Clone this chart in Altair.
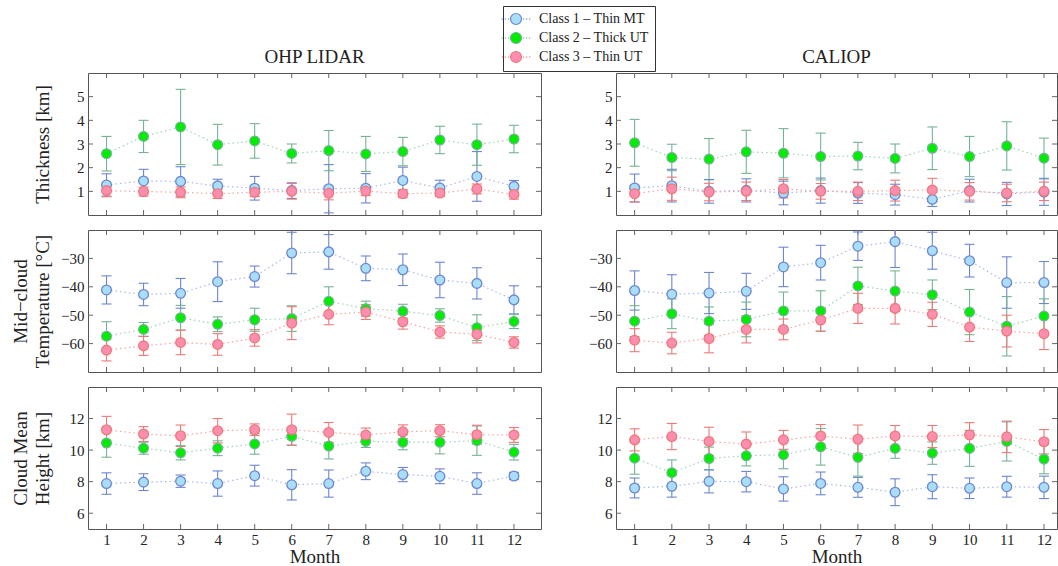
import altair as alt
import pandas as pd

MONTHS = list(range(1, 13))
CLASSES = ["Class 1 – Thin MT", "Class 2 – Thick UT", "Class 3 – Thin UT"]

ohp_thk_c1 = [1.27, 1.44, 1.42, 1.23, 1.13, 1.03, 1.11, 1.13, 1.46, 1.14, 1.63, 1.21]
ohp_thk_c1_sd = [0.47, 0.49, 0.62, 0.28, 0.50, 0.33, 1.02, 0.62, 0.56, 0.33, 1.05, 0.25]
ohp_thk_c2 = [2.59, 3.32, 3.72, 2.97, 3.13, 2.60, 2.72, 2.58, 2.68, 3.17, 2.97, 3.21]
ohp_thk_c2_sd = [0.73, 0.68, 1.59, 0.86, 0.73, 0.40, 0.85, 0.74, 0.60, 0.58, 0.87, 0.58]
ohp_thk_c3 = [1.03, 0.99, 0.96, 0.90, 0.96, 1.00, 0.92, 1.01, 0.90, 0.93, 1.10, 0.87]
ohp_thk_c3_sd = [0.26, 0.19, 0.23, 0.20, 0.18, 0.33, 0.28, 0.19, 0.17, 0.14, 0.21, 0.20]
ohp_tmp_c1 = [-41.1, -42.7, -42.3, -38.2, -36.4, -28.1, -27.7, -33.5, -34.0, -37.6, -38.8, -44.6]
ohp_tmp_c1_sd = [4.95, 3.95, 5.25, 7.0, 3.7, 7.3, 6.1, 4.35, 5.55, 6.25, 5.5, 4.95]
ohp_tmp_c2 = [-57.4, -55.0, -50.9, -53.2, -51.6, -51.2, -45.1, -47.7, -48.6, -50.1, -54.4, -52.2]
ohp_tmp_c2_sd = [5.1, 2.45, 4.35, 2.6, 4.05, 4.5, 5.1, 2.65, 2.45, 2.35, 4.55, 2.5]
ohp_tmp_c3 = [-62.3, -60.8, -59.6, -60.3, -58.0, -52.8, -49.7, -48.9, -52.3, -55.9, -56.7, -59.6]
ohp_tmp_c3_sd = [3.8, 3.35, 4.3, 3.8, 2.9, 5.8, 3.65, 2.6, 2.6, 2.15, 3.05, 2.0]
ohp_hgt_c1 = [7.88, 7.97, 8.03, 7.88, 8.38, 7.80, 7.88, 8.66, 8.45, 8.34, 7.88, 8.36]
ohp_hgt_c1_sd = [0.68, 0.53, 0.39, 0.80, 0.66, 0.96, 0.86, 0.53, 0.45, 0.47, 0.68, 0.23]
ohp_hgt_c2 = [10.45, 10.12, 9.83, 10.12, 10.39, 10.87, 10.26, 10.56, 10.50, 10.50, 10.60, 9.87]
ohp_hgt_c2_sd = [0.90, 0.38, 0.45, 0.47, 0.65, 0.55, 0.82, 0.39, 0.48, 0.74, 0.93, 0.50]
ohp_hgt_c3 = [11.29, 11.02, 10.91, 11.23, 11.29, 11.29, 11.12, 10.96, 11.16, 11.23, 10.98, 10.96]
ohp_hgt_c3_sd = [0.85, 0.47, 0.68, 0.77, 0.37, 0.99, 0.63, 0.44, 0.44, 0.38, 0.60, 0.47]

cal_thk_c1 = [1.14, 1.24, 1.00, 1.04, 0.93, 1.03, 0.93, 0.86, 0.66, 1.03, 0.89, 0.97]
cal_thk_c1_sd = [0.59, 0.69, 0.50, 0.49, 0.50, 0.53, 0.44, 0.44, 0.30, 0.48, 0.49, 0.56]
cal_thk_c2 = [3.05, 2.43, 2.36, 2.67, 2.61, 2.47, 2.49, 2.39, 2.82, 2.47, 2.92, 2.40]
cal_thk_c2_sd = [0.99, 0.56, 0.87, 0.91, 1.04, 0.99, 0.58, 0.61, 0.90, 0.85, 1.02, 0.85]
cal_thk_c3 = [0.90, 1.11, 0.97, 1.00, 1.11, 1.00, 1.00, 1.03, 1.06, 1.00, 0.93, 1.00]
cal_thk_c3_sd = [0.35, 0.49, 0.37, 0.39, 0.39, 0.33, 0.39, 0.44, 0.49, 0.37, 0.37, 0.39]
cal_tmp_c1 = [-41.3, -42.6, -42.2, -41.6, -33.0, -31.5, -25.7, -24.1, -27.3, -30.8, -38.5, -38.5]
cal_tmp_c1_sd = [6.9, 6.85, 7.25, 6.35, 6.95, 6.1, 5.0, 9.1, 6.5, 5.75, 9.05, 7.4]
cal_tmp_c2 = [-52.1, -49.5, -52.1, -51.5, -48.5, -48.5, -39.7, -41.5, -42.8, -48.9, -53.9, -50.3]
cal_tmp_c2_sd = [5.45, 5.25, 5.0, 6.1, 6.65, 7.1, 6.6, 7.1, 5.2, 7.95, 10.45, 6.05]
cal_tmp_c3 = [-58.8, -59.8, -58.2, -55.0, -55.0, -51.7, -47.6, -47.6, -49.7, -54.2, -55.6, -56.5]
cal_tmp_c3_sd = [4.05, 3.8, 5.05, 4.75, 3.65, 4.0, 5.3, 5.5, 4.25, 5.05, 5.6, 5.6]
cal_hgt_c1 = [7.60, 7.71, 8.02, 8.00, 7.54, 7.89, 7.64, 7.33, 7.68, 7.58, 7.68, 7.64]
cal_hgt_c1_sd = [0.63, 0.69, 0.73, 0.65, 0.77, 0.72, 0.63, 0.85, 0.76, 0.65, 0.66, 0.71]
cal_hgt_c2 = [9.49, 8.57, 9.47, 9.64, 9.71, 10.21, 9.54, 10.11, 9.81, 10.11, 10.55, 9.43]
cal_hgt_c2_sd = [1.02, 0.81, 0.72, 0.64, 0.89, 1.16, 1.19, 0.63, 0.71, 1.14, 1.24, 0.93]
cal_hgt_c3 = [10.65, 10.86, 10.55, 10.38, 10.65, 10.90, 10.69, 10.90, 10.86, 10.97, 10.84, 10.53]
cal_hgt_c3_sd = [0.70, 0.83, 0.90, 0.77, 0.60, 0.72, 0.90, 0.66, 0.70, 0.77, 1.00, 0.77]

THK_TICKS = [1, 2, 3, 4, 5]
TMP_TICKS = [-60, -50, -40, -30]
HGT_TICKS = [6, 8, 10, 12]

FONT = "Liberation Serif"
TXT = "#222222"
FILL_COLORS = ["#a9def9", "#00ec00", "#ff8db0"]
STROKE_COLORS = ["#6d86d0", "#74b493", "#ec7a78"]
LINE_COLORS = ["#a9b8ec", "#9fd4b5", "#f4a6a6"]

H = 142
W_LEFT = 453
W_RIGHT = 441
XDOM_LEFT = [0.5, 12.73]
XDOM_RIGHT = [0.5, 12.35]

LEGEND_PATH = (
    "M-2.6,0L-2.35,0M-2.05,0L-1.8,0M-1.5,0L-1.25,0"
    "M1.25,0L1.5,0M1.8,0L2.05,0M2.35,0L2.6,0"
    "M-1,0A1,1 0 1,1 1,0A1,1 0 1,1 -1,0Z"
)

legend = alt.Legend(
    title=None, orient="none", legendX=415, legendY=-67,
    symbolType=LEGEND_PATH, symbolSize=121, symbolStrokeWidth=1.2,
    labelFont=FONT, labelFontSize=14, labelColor=TXT, labelOffset=16,
    rowPadding=3, padding=6, strokeColor="#333333", fillColor="white",
)


def panel_df(series):
    rows = []
    for cls, (m, s) in zip(CLASSES, series):
        for mo, mv, sv in zip(MONTHS, m, s):
            rows.append({"month": mo, "cls": cls, "mean": mv, "lo": mv - sv, "hi": mv + sv})
    return pd.DataFrame(rows)


def make_panel(df, ydom, yticks, width, xdom, ytitle=None, bottom=False, title=None):
    xscale = alt.Scale(domain=xdom, nice=False, zero=False)
    yscale = alt.Scale(domain=ydom, nice=False, zero=False)
    if bottom:
        xaxis = alt.Axis(values=MONTHS, format="d", title="Month", ticks=False, domain=False,
                         grid=False, labelPadding=3, titlePadding=0, labelFontSize=15,
                         titleFontSize=19, labelFont=FONT, titleFont=FONT,
                         titleFontWeight="normal", labelColor=TXT, titleColor=TXT,
                         labelFlush=False)
    else:
        xaxis = None
    ykw = dict(values=yticks, ticks=False, domain=False, grid=False, labelPadding=4,
               labelFontSize=15, labelFont=FONT, labelColor=TXT)
    if ytitle is not None:
        ykw.update(title=ytitle, titleFont=FONT, titleFontSize=19, titleFontWeight="normal",
                   titleColor=TXT, titlePadding=6, minExtent=30, maxExtent=30, titleLineHeight=22)
    else:
        ykw.update(title=None, minExtent=38, maxExtent=38)
    yaxis = alt.Axis(**ykw)

    def X():
        return alt.X("month:Q", scale=xscale, axis=xaxis)

    def Y(field):
        return alt.Y(f"{field}:Q", scale=yscale, axis=yaxis)

    stroke_scale = alt.Scale(domain=CLASSES, range=STROKE_COLORS)
    fill_scale = alt.Scale(domain=CLASSES, range=FILL_COLORS)

    base = alt.Chart(df)
    lines = [
        base.transform_filter(alt.datum.cls == c).mark_line(
            color=LINE_COLORS[i], strokeDash=[1.5, 3], strokeWidth=1.2, clip=True
        ).encode(x=X(), y=Y("mean"))
        for i, c in enumerate(CLASSES)
    ]
    bars = base.mark_rule(strokeWidth=1.1, clip=True).encode(
        x=X(), y=Y("lo"), y2="hi:Q",
        stroke=alt.Stroke("cls:N", scale=stroke_scale, legend=legend))
    cap_lo = base.mark_rule(strokeWidth=1.1, clip=True, xOffset=-5, x2Offset=5).encode(
        x=X(), x2="month:Q", y=Y("lo"),
        stroke=alt.Stroke("cls:N", scale=stroke_scale, legend=legend))
    cap_hi = base.mark_rule(strokeWidth=1.1, clip=True, xOffset=-5, x2Offset=5).encode(
        x=X(), x2="month:Q", y=Y("hi"),
        stroke=alt.Stroke("cls:N", scale=stroke_scale, legend=legend))
    pts = base.mark_circle(size=95, strokeWidth=1.3, opacity=1, clip=True).encode(
        x=X(), y=Y("mean"),
        fill=alt.Fill("cls:N", scale=fill_scale, legend=legend),
        stroke=alt.Stroke("cls:N", scale=stroke_scale, legend=legend))

    tx = alt.Chart(pd.DataFrame({"month": MONTHS}))
    ty = alt.Chart(pd.DataFrame({"mean": yticks}))
    tick_color = "#666666"
    t_top = tx.mark_rule(color=tick_color).encode(x=X(), y=alt.value(0), y2=alt.value(5))
    t_bot = tx.mark_rule(color=tick_color).encode(x=X(), y=alt.value(H - 5), y2=alt.value(H))
    t_left = ty.mark_rule(color=tick_color).encode(y=Y("mean"), x=alt.value(0), x2=alt.value(5))
    t_right = ty.mark_rule(color=tick_color).encode(y=Y("mean"), x=alt.value(width - 5), x2=alt.value(width))

    layer = alt.layer(*lines, t_top, t_bot, t_left, t_right, bars, cap_lo, cap_hi, pts)
    props = dict(width=width, height=H)
    if title is not None:
        props["title"] = alt.Title(title, font=FONT, fontSize=19, fontWeight="normal",
                                   color=TXT, offset=6)
    return layer.properties(**props)


ohp_thk = panel_df([(ohp_thk_c1, ohp_thk_c1_sd), (ohp_thk_c2, ohp_thk_c2_sd), (ohp_thk_c3, ohp_thk_c3_sd)])
ohp_tmp = panel_df([(ohp_tmp_c1, ohp_tmp_c1_sd), (ohp_tmp_c2, ohp_tmp_c2_sd), (ohp_tmp_c3, ohp_tmp_c3_sd)])
ohp_hgt = panel_df([(ohp_hgt_c1, ohp_hgt_c1_sd), (ohp_hgt_c2, ohp_hgt_c2_sd), (ohp_hgt_c3, ohp_hgt_c3_sd)])
cal_thk = panel_df([(cal_thk_c1, cal_thk_c1_sd), (cal_thk_c2, cal_thk_c2_sd), (cal_thk_c3, cal_thk_c3_sd)])
cal_tmp = panel_df([(cal_tmp_c1, cal_tmp_c1_sd), (cal_tmp_c2, cal_tmp_c2_sd), (cal_tmp_c3, cal_tmp_c3_sd)])
cal_hgt = panel_df([(cal_hgt_c1, cal_hgt_c1_sd), (cal_hgt_c2, cal_hgt_c2_sd), (cal_hgt_c3, cal_hgt_c3_sd)])

p11 = make_panel(ohp_thk, [0, 6], THK_TICKS, W_LEFT, XDOM_LEFT, ytitle=[" ", "Thickness [km]"], title="OHP LIDAR")
p12 = make_panel(cal_thk, [0, 6], THK_TICKS, W_RIGHT, XDOM_RIGHT, title="CALIOP")
p21 = make_panel(ohp_tmp, [-70, -20], TMP_TICKS, W_LEFT, XDOM_LEFT, ytitle=["Mid−cloud", "Temperature [°C]"])
p22 = make_panel(cal_tmp, [-70, -20], TMP_TICKS, W_RIGHT, XDOM_RIGHT)
p31 = make_panel(ohp_hgt, [5, 14], HGT_TICKS, W_LEFT, XDOM_LEFT, ytitle=["Cloud Mean", "Height [km]"], bottom=True)
p32 = make_panel(cal_hgt, [5, 14], HGT_TICKS, W_RIGHT, XDOM_RIGHT, bottom=True)

chart = alt.vconcat(
    alt.hconcat(p11, p12, spacing=35),
    alt.hconcat(p21, p22, spacing=35),
    alt.hconcat(p31, p32, spacing=35),
    spacing=13,
).properties(
    padding={"left": 10, "top": 5, "right": 0, "bottom": 0},
    background="white",
).configure_view(stroke="#555555", strokeWidth=1)

chart.save("out.html", embed_options={"renderer": "svg", "actions": False})
